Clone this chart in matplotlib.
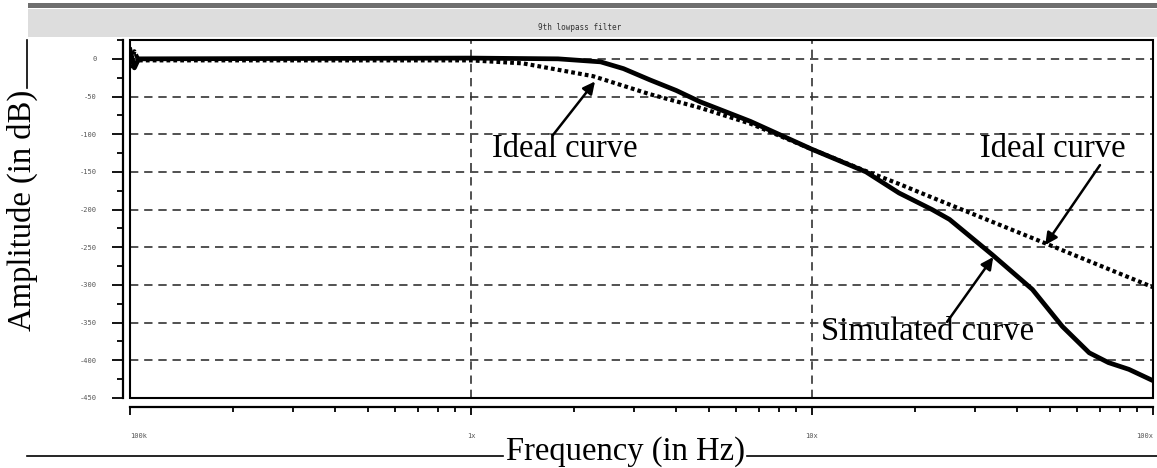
import matplotlib.pyplot as plt
from matplotlib.lines import Line2D
from matplotlib.patches import Rectangle
from matplotlib.ticker import LogLocator, MultipleLocator, NullFormatter

# data
sim_freq = [1.0e5, 1.03e5, 1.06e5, 1.0e6, 1.8e6, 2.4e6, 2.8e6, 3.35e6, 4.0e6, 4.7e6,
            6.6e6, 1.0e7, 1.44e7, 1.8e7, 2.25e7, 2.53e7, 3.38e7, 4.43e7, 5.42e7,
            6.5e7, 7.4e7, 8.5e7, 1.0e8]
sim_db = [12, -12, 0, 1, 0, -4, -13, -28, -42, -57,
          -83, -120, -150, -178, -200, -213, -260, -306, -355,
          -390, -403, -412, -427]

ideal_freq = [1.0e5, 1.03e5, 1.06e5, 1.0e6, 1.42e6, 2.28e6, 3.35e6, 4.7e6, 6.6e6,
              1.0e7, 1.44e7, 1.8e7, 2.25e7, 3.54e7, 4.73e7, 1.0e8]
ideal_db = [-12, 10, -2, -2, -6, -23, -47, -65, -86,
            -120, -149, -166, -184, -220, -243, -303]

y_ticks = [0, -50, -100, -150, -200, -250, -300, -350, -400, -450]
y_tick_labels = ['0', '-50', '-100', '-150', '-200', '-250', '-300', '-350', '-400', '-450']
x_ticks = [1e5, 1e6, 1e7, 1e8]
x_tick_labels = ['100k', '1x', '10x', '100x']

SERIF = ['Liberation Serif', 'DejaVu Serif']
TICK_COLOR = '#555555'
GRID_COLOR = '#333333'

fig = plt.figure(figsize=(11.57, 4.68), dpi=100)
ax = fig.add_axes([130 / 1157, 70 / 468, 1023 / 1157, 358 / 468])

ax.plot(sim_freq, sim_db, color='black', linewidth=3.4, solid_joinstyle='round', zorder=4)
ax.plot(ideal_freq, ideal_db, color='black', linewidth=3.0, linestyle=(0, (0.9, 0.75)), zorder=5)

ax.set_xscale('log')
ax.set_xlim(1e5, 1e8)
ax.set_ylim(-450, 25)

ax.set_yticks(y_ticks)
ax.set_yticklabels(y_tick_labels)
ax.yaxis.set_minor_locator(MultipleLocator(25))
ax.set_xticks(x_ticks)
ax.set_xticklabels(x_tick_labels)
ax.xaxis.set_minor_locator(LogLocator(base=10, subs=range(2, 10)))
ax.xaxis.set_minor_formatter(NullFormatter())

for y in y_ticks:
    ax.axhline(y, color=GRID_COLOR, linestyle=(0, (5, 3.5)), linewidth=1.2, zorder=1)
for x in x_ticks[1:3]:
    ax.axvline(x, color=GRID_COLOR, linestyle=(0, (5, 3.5)), linewidth=1.2, zorder=1)

# axis lines offset from the plot box, like the simulator output
for side in ['top', 'right']:
    ax.spines[side].set_visible(False)
ax.spines['left'].set_position(('outward', 5))
ax.spines['bottom'].set_position(('outward', 6.5))
ax.spines['left'].set_linewidth(1.6)
ax.spines['bottom'].set_linewidth(1.6)
ax.add_patch(Rectangle((0, 0), 1, 1, transform=ax.transAxes, fill=False,
                       edgecolor='black', linewidth=1.5, clip_on=False, zorder=6))

ax.tick_params(axis='y', which='major', length=8, width=1.3, pad=11,
               labelsize=5, labelcolor=TICK_COLOR)
ax.tick_params(axis='y', which='minor', length=4, width=1.3)
ax.tick_params(axis='x', which='major', length=6, width=1.3, pad=13,
               labelsize=5, labelcolor=TICK_COLOR)
ax.tick_params(axis='x', which='minor', length=3.5, width=1.3)
for lab in ax.get_xticklabels() + ax.get_yticklabels():
    lab.set_family('DejaVu Sans Mono')
xl = ax.get_xticklabels()
xl[0].set_ha('left')
xl[-1].set_ha('right')

# annotations
ax.text(1.153e6, -130, 'Ideal curve', family=SERIF, fontsize=23.5, va='baseline', ha='left')
ax.annotate('', xy=(2.31e6, -30), xytext=(1.74e6, -101),
            arrowprops=dict(arrowstyle='-|>', color='black', lw=1.8, mutation_scale=18,
                            shrinkA=0, shrinkB=0))
ax.text(3.11e7, -130, 'Ideal curve', family=SERIF, fontsize=23.5, va='baseline', ha='left')
ax.annotate('', xy=(4.83e7, -247), xytext=(6.99e7, -141),
            arrowprops=dict(arrowstyle='-|>', color='black', lw=1.8, mutation_scale=18,
                            shrinkA=0, shrinkB=0))
ax.text(1.063e7, -373, 'Simulated curve', family=SERIF, fontsize=23.5, va='baseline', ha='left',
        zorder=7)
ax.annotate('', xy=(3.40e7, -263), xytext=(2.49e7, -349),
            arrowprops=dict(arrowstyle='-|>', color='black', lw=1.8, mutation_scale=18,
                            shrinkA=0, shrinkB=0))

# title banner
fig.add_artist(Rectangle((28 / 1157, 1 - 8 / 468), 1, 5 / 468, transform=fig.transFigure,
                         facecolor='#6e6e6e', edgecolor='none'))
fig.add_artist(Rectangle((28 / 1157, 1 - 37 / 468), 1, 28 / 468, transform=fig.transFigure,
                         facecolor='#dddddd', edgecolor='none'))
fig.text(580 / 1157, 1 - 27 / 468, '9th lowpass filter', family='DejaVu Sans Mono',
         fontsize=5.5, color='#333333', ha='center', va='center')

# axis titles with their rules
fig.text(22 / 1157, 1 - 210 / 468, 'Amplitude (in dB)', family=SERIF, fontsize=23.5,
         rotation=90, ha='center', va='center')
fig.add_artist(Line2D([27 / 1157, 27 / 1157], [1 - 40 / 468, 1 - 88 / 468],
                      transform=fig.transFigure, color='black', linewidth=1.2))
fig.text(625 / 1157, 1 - 460 / 468, 'Frequency (in Hz)', family=SERIF, fontsize=23.5,
         ha='center', va='baseline')
fig.add_artist(Line2D([27 / 1157, 503 / 1157], [1 - 456 / 468, 1 - 456 / 468],
                      transform=fig.transFigure, color='black', linewidth=1.2))
fig.add_artist(Line2D([747 / 1157, 1], [1 - 456 / 468, 1 - 456 / 468],
                      transform=fig.transFigure, color='black', linewidth=1.2))

fig.savefig('out.png', dpi=100)
